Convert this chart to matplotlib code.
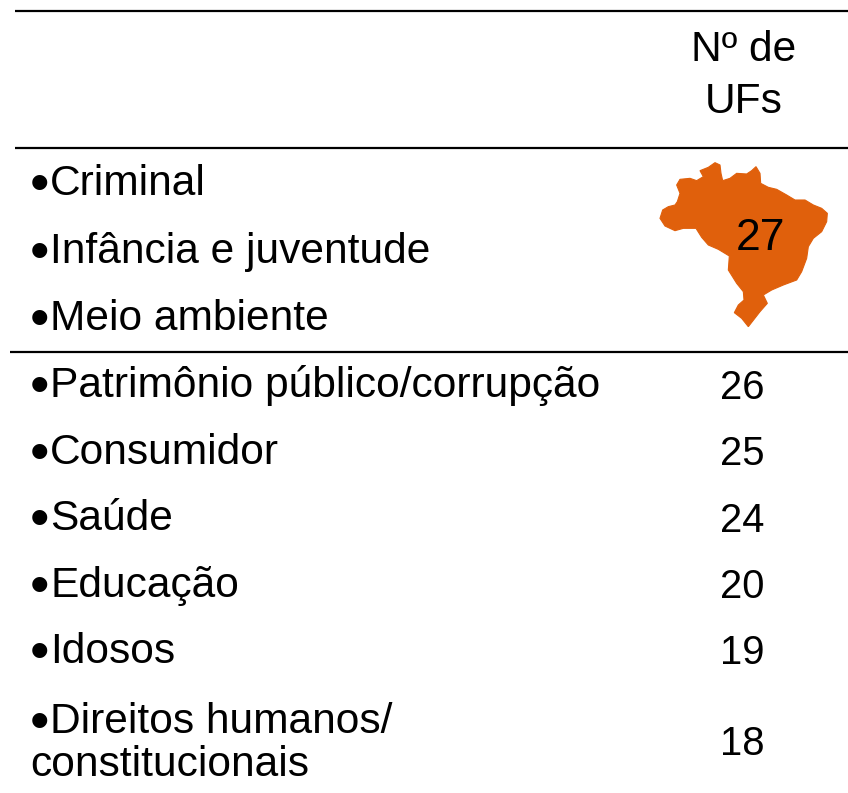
import matplotlib
matplotlib.use("Agg")
import matplotlib.pyplot as plt
from matplotlib.patches import Polygon

W, H = 848, 793
header_lines = ["Nº de", "UFs"]
header_y = [61, 113]
top_items = ["Criminal", "Infância e juventude", "Meio ambiente"]
top_y = [195, 263, 330]
map_value = 27
items = ["Patrimônio público/corrupção", "Consumidor", "Saúde", "Educação", "Idosos"]
values = [26, 25, 24, 20, 19]
item_y = [397, 464, 530, 597, 663]
value_y = [399, 465, 532, 598, 664]
last_first = "Direitos humanos/"
last_item = "constitucionais"
last_value = 18
map_outline = [(60,205),(68,180),(85,170),(105,165),(112,155),(120,130),(110,105),(120,88),
 (150,85),(170,92),(190,80),(180,62),(205,52),(225,38),(240,45),(243,70),(248,92),
 (270,85),(290,70),(320,72),(335,62),(348,50),(360,70),(362,100),(385,112),(410,118),
 (440,135),(465,150),(495,150),(520,165),(545,175),(562,190),(560,215),(545,245),
 (520,265),(505,290),(500,325),(485,365),(470,390),(430,405),(395,420),(370,435),
 (382,460),(360,485),(325,530),(305,505),(283,488),(295,465),(312,450),(310,425),
 (290,400),(265,360),(268,318),(235,298),(205,285),(185,262),(168,235),(130,235),
 (105,242),(75,228)]

plt.rcParams['font.family'] = ['Liberation Sans', 'DejaVu Sans']
fig = plt.figure(figsize=(W/100, H/100), dpi=100)
ax = fig.add_axes([0, 0, 1, 1])
ax.set_xlim(0, W); ax.set_ylim(H, 0); ax.axis('off')
FS = 30.6
FN = 28.8
for y, x0 in [(11, 15), (148, 15), (352, 10)]:
    ax.plot([x0, W], [y, y], color='black', lw=1.6, solid_capstyle='butt')

for y, s in zip(header_y, header_lines):
    ax.text(743.5, y, s, ha='center', va='baseline', fontsize=FS)

X_BUL, X_TXT = 30, 50
def item(y, s):
    ax.text(X_BUL, y + 6, "•", ha='left', va='baseline', fontsize=40)
    ax.text(X_TXT, y, s, ha='left', va='baseline', fontsize=FS)
for y, s in zip(top_y, top_items):
    item(y, s)
for y, yv, s, v in zip(item_y, value_y, items, values):
    item(y, s)
    ax.text(742.5, yv, str(v), ha='center', va='baseline', fontsize=FN)
item(733, last_first)
ax.text(30, 776, last_item, ha='left', va='baseline', fontsize=FS)
ax.text(742.5, 755, str(last_value), ha='center', va='baseline', fontsize=FN)

pts = [(640 + x/3, 150 + y/3) for x, y in map_outline]
ax.add_patch(Polygon(pts, closed=True, facecolor='#E0600C', edgecolor='#E0600C', lw=0.8))
ax.text(761, 250, str(map_value), ha='center', va='baseline', fontsize=32, color='black')
fig.savefig('out.png', dpi=100)
